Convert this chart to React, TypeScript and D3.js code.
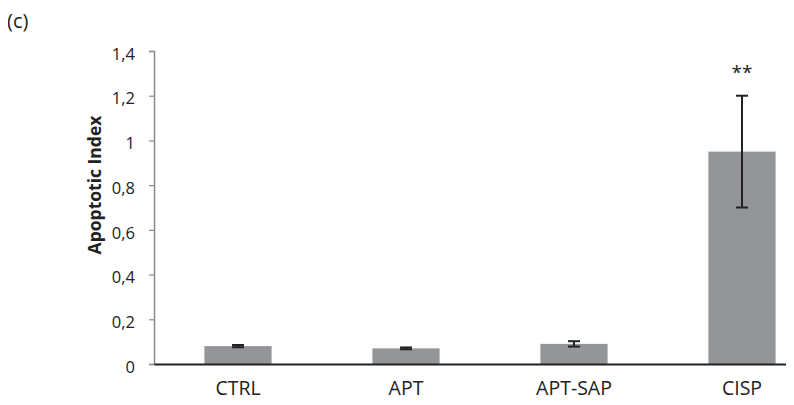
import React, { useEffect, useRef } from "react";
import * as d3 from "d3";

const categories = ["CTRL", "APT", "APT-SAP", "CISP"];
const values = [0.08, 0.07, 0.09, 0.95];
const errors = [0.005, 0.004, 0.012, 0.25];
const marks = ["", "", "", "**"];
const yTicks = [0, 0.2, 0.4, 0.6, 0.8, 1, 1.2, 1.4];

export default function App() {
  const ref = useRef<SVGSVGElement>(null);

  useEffect(() => {
    const svg = d3.select(ref.current);
    svg.selectAll("*").remove();
    const width = 794;
    const height = 405;
    const font = "'Open Sans', 'Liberation Sans', sans-serif";

    const x = d3
      .scaleBand()
      .domain(categories)
      .range([154, 826])
      .paddingInner(0.6)
      .paddingOuter(0.3);
    const y = d3.scaleLinear().domain([0, 1.4]).range([364, 51]);

    svg.attr("width", width).attr("height", height);

    // panel letter
    svg
      .append("text")
      .attr("x", 7)
      .attr("y", 28)
      .attr("font-family", font)
      .attr("font-size", 20)
      .attr("fill", "#222")
      .text("(c)");

    // y axis
    const gy = svg
      .append("g")
      .attr("transform", "translate(154,0)")
      .call(
        d3
          .axisLeft(y)
          .tickValues(yTicks)
          .tickSize(5)
          .tickSizeOuter(5)
          .tickFormat((d) => String(d).replace(".", ","))
      );
    gy.select(".domain").attr("stroke", "#8a8a8a").attr("stroke-width", 1.5);
    gy.selectAll(".tick line").attr("stroke", "#8a8a8a").attr("stroke-width", 1.2);
    gy.selectAll(".tick text")
      .attr("font-family", font)
      .attr("font-size", 16.5)
      .attr("fill", "#222")
      .attr("x", -19)
      .attr("dy", "0.5em");

    svg
      .append("text")
      .attr("transform", `translate(101,185) rotate(-90)`)
      .attr("text-anchor", "middle")
      .attr("font-family", font)
      .attr("font-size", 17.5)
      .attr("font-weight", "bold")
      .attr("fill", "#222")
      .text("Apoptotic Index");

    // bars
    svg
      .selectAll("rect.bar")
      .data(values)
      .enter()
      .append("rect")
      .attr("class", "bar")
      .attr("x", (_, i) => x(categories[i])!)
      .attr("y", (d) => y(d))
      .attr("width", x.bandwidth())
      .attr("height", (d) => y(0) - y(d))
      .attr("fill", "#949599");

    // x axis
    const gx = svg
      .append("g")
      .attr("transform", `translate(0,${y(0)})`)
      .call(d3.axisBottom(x).tickSize(0).tickPadding(17));
    gx.select(".domain").attr("stroke", "#222").attr("stroke-width", 2);
    gx.selectAll(".tick text")
      .attr("font-family", font)
      .attr("font-size", 19.5)
      .attr("fill", "#222");

    // error bars
    const eb = svg
      .selectAll("g.err")
      .data(values)
      .enter()
      .append("g")
      .attr("class", "err")
      .attr("transform", (_, i) => `translate(${x(categories[i])! + x.bandwidth() / 2},0)`);
    eb.append("line")
      .attr("y1", (d, i) => y(d + errors[i]))
      .attr("y2", (d, i) => y(d - errors[i]))
      .attr("stroke", "#222")
      .attr("stroke-width", 2);
    eb.append("line")
      .attr("x1", -6)
      .attr("x2", 6)
      .attr("y1", (d, i) => y(d + errors[i]))
      .attr("y2", (d, i) => y(d + errors[i]))
      .attr("stroke", "#222")
      .attr("stroke-width", 2);
    eb.append("line")
      .attr("x1", -6)
      .attr("x2", 6)
      .attr("y1", (d, i) => y(d - errors[i]))
      .attr("y2", (d, i) => y(d - errors[i]))
      .attr("stroke", "#222")
      .attr("stroke-width", 2);

    // significance marks
    svg
      .selectAll("text.mark")
      .data(marks)
      .enter()
      .append("text")
      .attr("class", "mark")
      .attr("x", (_, i) => x(categories[i])! + x.bandwidth() / 2)
      .attr("y", (_, i) => y(values[i] + errors[i]) - 17)
      .attr("text-anchor", "middle")
      .attr("font-family", font)
      .attr("font-size", 19)
      .attr("fill", "#222")
      .text((d) => d);
  }, []);

  return (
    <div style={{ margin: -8 }}>
      <svg ref={ref} style={{ display: "block" }}></svg>
    </div>
  );
}
